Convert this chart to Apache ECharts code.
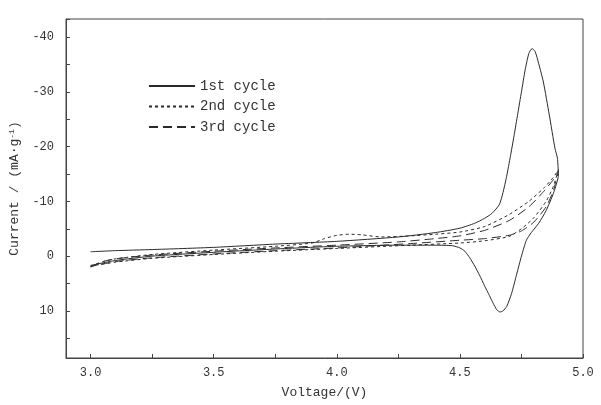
<!DOCTYPE html>
<html>
<head>
<meta charset="utf-8">
<script src="https://cdn.jsdelivr.net/npm/echarts@6/dist/echarts.min.js"></script>
<style>
html,body{margin:0;padding:0;background:#fff;}
#c{width:601px;height:405px;}
</style>
</head>
<body>
<div id="c"></div>
<script>
// Cycle 1 (solid): anodic sweep 3.0 -> 4.9 V, then cathodic sweep back to 3.0 V
var cycle1Voltage = [3.00,3.10,3.25,3.50,3.75,4.00,4.25,4.40,4.50,4.56,4.60,4.63,4.66,4.675,4.69,4.705,4.72,4.735,4.75,4.765,4.78,4.793,4.805,4.815,4.839,4.863,4.886,4.896,4.90,
  4.88,4.85,4.82,4.79,4.77,4.75,4.73,4.71,4.69,4.675,4.663,4.65,4.635,4.62,4.60,4.58,4.56,4.54,4.52,4.50,4.47,4.40,4.25,4.00,3.75,3.50,3.25,3.10,3.00];
var cycle1Current = [-0.8,-1.0,-1.2,-1.6,-2.2,-2.7,-3.5,-4.3,-5.1,-6.0,-6.9,-7.8,-9.4,-11.6,-14.6,-18.2,-22.0,-26.0,-30.0,-34.0,-37.0,-37.9,-37.4,-36.0,-31.8,-25.8,-19.7,-17.9,-14.8,
  -11.5,-8.3,-6.0,-4.3,-2.9,0.0,3.4,6.8,9.2,10.0,10.2,9.8,8.6,7.2,5.4,3.5,1.8,0.3,-0.9,-1.5,-1.9,-2.0,-2.0,-1.8,-1.3,-0.7,0.0,0.8,1.7];

// Cycle 2 (short dash)
var cycle2Voltage = [3.00,3.05,3.10,3.25,3.50,3.75,3.90,3.95,4.00,4.05,4.10,4.18,4.30,4.40,4.50,4.60,4.70,4.78,4.84,4.88,4.90,
  4.88,4.85,4.80,4.75,4.70,4.60,4.50,4.30,4.00,3.75,3.50,3.25,3.10,3.00];
var cycle2Current = [1.8,1.0,0.5,-0.3,-1.1,-1.8,-2.4,-3.2,-3.8,-4.0,-3.9,-3.5,-3.7,-4.0,-4.4,-5.4,-7.6,-10.0,-12.4,-14.4,-15.8,
  -12.8,-10.0,-7.0,-5.0,-3.6,-2.8,-2.4,-2.0,-1.4,-0.9,-0.3,0.4,1.1,1.8];

// Cycle 3 (long dash)
var cycle3Voltage = [3.00,3.05,3.10,3.25,3.50,3.75,4.00,4.25,4.40,4.50,4.60,4.70,4.78,4.84,4.88,4.90,
  4.88,4.85,4.80,4.75,4.70,4.60,4.50,4.30,4.00,3.75,3.50,3.25,3.10,3.00];
var cycle3Current = [2.0,1.0,0.5,-0.2,-0.9,-1.5,-2.0,-2.6,-3.2,-3.7,-4.7,-6.5,-9.0,-11.8,-14.0,-15.5,
  -12.0,-9.0,-6.2,-4.6,-3.8,-3.2,-2.9,-2.3,-1.5,-1.0,-0.4,0.3,1.0,1.9];

var seriesNames = ['1st cycle','2nd cycle','3rd cycle'];
var xTickLabels = [3.0,3.5,4.0,4.5,5.0];
var yTickLabels = [-40,-30,-20,-10,0,10];

function zip(a,b){ var r=[]; for(var i=0;i<a.length;i++) r.push([a[i],b[i]]); return r; }

var lineColor = '#2a2a2a';
var txt = '#333';
var fontFam = '"Liberation Mono", "DejaVu Sans Mono", monospace';

var chart = echarts.init(document.getElementById('c'));
chart.setOption({
  animation:false,
  backgroundColor:'#fff',
  grid:{left:66,top:19,right:18,bottom:47,show:true,borderColor:'#444',borderWidth:1,backgroundColor:'transparent'},
  legend:{
    orient:'vertical', left:148, top:79, padding:0, itemWidth:46, itemHeight:14, itemGap:6.5,
    data:seriesNames,
    itemStyle:{opacity:0},
    textStyle:{fontFamily:fontFam,fontSize:14,color:txt}
  },
  xAxis:{
    type:'value', min:2.9, max:5.0, minInterval:0.25, maxInterval:0.25,
    name:'Voltage/(V)', nameLocation:'middle', nameGap:28,
    nameTextStyle:{fontFamily:fontFam,fontSize:13,color:txt},
    axisLine:{show:true,onZero:false,lineStyle:{color:'#444',width:1}},
    axisTick:{show:true,inside:true,length:4,lineStyle:{color:'#444'}},
    splitLine:{show:false},
    axisLabel:{color:txt,fontFamily:fontFam,fontSize:12,margin:9,showMaxLabel:true,showMinLabel:true,
      formatter:function(v){
        for(var i=0;i<xTickLabels.length;i++){ if(Math.abs(v-xTickLabels[i])<1e-6) return xTickLabels[i].toFixed(1); }
        return '';
      }}
  },
  yAxis:{
    type:'value', inverse:true, min:-43.3, max:18.6, minInterval:5, maxInterval:5,
    name:'Current / (mA·g{sup|-1})', nameLocation:'middle', nameGap:44, nameRotate:90,
    nameTextStyle:{fontFamily:fontFam,fontSize:13,color:txt,rich:{sup:{fontSize:8,verticalAlign:'top',fontFamily:fontFam,color:txt,padding:[0,0,6,0]}}},
    axisLine:{show:true,onZero:false,lineStyle:{color:'#444',width:1}},
    axisTick:{show:true,inside:true,length:4,lineStyle:{color:'#444'}},
    splitLine:{show:false},
    axisLabel:{color:txt,fontFamily:fontFam,fontSize:12,margin:12,
      formatter:function(v){
        for(var i=0;i<yTickLabels.length;i++){ if(Math.abs(v-yTickLabels[i])<1e-6) return String(yTickLabels[i]); }
        return '';
      }}
  },
  series:[
    {name:seriesNames[0],type:'line',data:zip(cycle1Voltage,cycle1Current),symbol:'none',smooth:0.2,
      lineStyle:{color:lineColor,width:1,type:'solid'},itemStyle:{color:lineColor}},
    {name:seriesNames[1],type:'line',data:zip(cycle2Voltage,cycle2Current),symbol:'none',smooth:0.2,
      lineStyle:{color:lineColor,width:1,type:[3,3]},itemStyle:{color:lineColor}},
    {name:seriesNames[2],type:'line',data:zip(cycle3Voltage,cycle3Current),symbol:'none',smooth:0.2,
      lineStyle:{color:lineColor,width:1,type:[9,5]},itemStyle:{color:lineColor}}
  ]
});
</script>
</body>
</html>
